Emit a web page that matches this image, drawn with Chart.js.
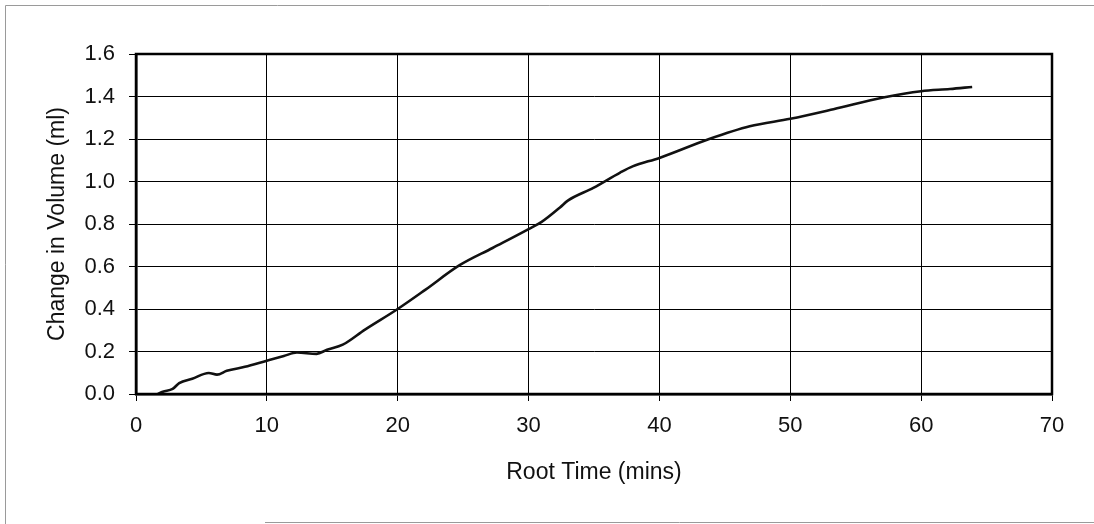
<!DOCTYPE html>
<html>
<head>
<meta charset="utf-8">
<script src="https://cdn.jsdelivr.net/npm/chart.js@4/dist/chart.umd.min.js"></script>
<style>
  html, body { margin: 0; padding: 0; background: #fff; }
  canvas { display: block; }
</style>
</head>
<body>
<canvas id="c" width="1094" height="524"></canvas>
<script>
// Data
const rootTime = [1.67, 2.05, 2.8, 3.3, 4.3, 5.56, 6.19, 6.94, 8.32, 10.0, 11.3, 12.3, 13.8, 14.6, 15.8, 17.5, 20.0, 22.1, 24.7, 27.25, 30.0, 31.0, 32.4, 33.0, 34.95, 37.0, 37.95, 40.0, 43.8, 46.9, 50.0, 53.3, 57.1, 60.0, 62.2, 63.9];
const volumeChange = [0.0, 0.011, 0.024, 0.051, 0.072, 0.099, 0.091, 0.109, 0.128, 0.157, 0.179, 0.195, 0.189, 0.208, 0.232, 0.303, 0.40, 0.49, 0.605, 0.687, 0.776, 0.81, 0.878, 0.91, 0.97, 1.042, 1.071, 1.111, 1.2, 1.26, 1.295, 1.34, 1.395, 1.425, 1.435, 1.445];
const xTitle = "Root Time (mins)";
const yTitle = "Change in Volume (ml)";
const xMin = 0, xMax = 70, xStep = 10;
const yMin = 0, yMax = 1.6, yStep = 0.2;

const points = rootTime.map((x, i) => ({ x: x, y: volumeChange[i] }));
const FONT = "'Liberation Sans', Arial, sans-serif";

const framePlugin = {
  id: 'frames',
  afterDraw(chart) {
    const ctx = chart.ctx;
    const a = chart.chartArea;
    ctx.save();
    // plot-area box
    ctx.strokeStyle = '#000';
    ctx.lineWidth = 2.5;
    ctx.strokeRect(a.left, a.top, a.right - a.left, a.bottom - a.top);
    // outer light frame of the figure
    ctx.strokeStyle = '#9a9a9a';
    ctx.lineWidth = 1;
    ctx.beginPath();
    ctx.moveTo(5.5, 524); ctx.lineTo(5.5, 5.5); ctx.lineTo(1094, 5.5);
    ctx.moveTo(265, 522.5); ctx.lineTo(1094, 522.5);
    ctx.stroke();
    ctx.restore();
  }
};

new Chart(document.getElementById('c'), {
  type: 'scatter',
  data: {
    datasets: [{
      data: points,
      showLine: true,
      borderColor: '#111',
      backgroundColor: '#111',
      borderWidth: 2.6,
      pointRadius: 0,
      cubicInterpolationMode: 'monotone'
    }]
  },
  options: {
    responsive: false,
    animation: false,
    devicePixelRatio: 1,
    layout: { padding: { left: 0, right: 42, top: 54, bottom: 0 } },
    plugins: { legend: { display: false }, tooltip: { enabled: false } },
    scales: {
      x: {
        type: 'linear',
        min: xMin, max: xMax,
        afterFit(s) { s.height = 130; },
        ticks: { stepSize: xStep, color: '#111', font: { family: FONT, size: 22 }, padding: 12, maxRotation: 0 },
        grid: { color: '#000', lineWidth: 1, tickLength: 7, tickColor: '#000' },
        border: { display: true, color: '#000', width: 2.5 },
        title: { display: true, text: xTitle, color: '#111', font: { family: FONT, size: 23 }, padding: { top: 0, bottom: 38 } }
      },
      y: {
        type: 'linear',
        min: yMin, max: yMax,
        afterFit(s) { s.width = 136; },
        ticks: { stepSize: yStep, color: '#111', font: { family: FONT, size: 22 }, padding: 14,
                 callback: (v) => Number(v).toFixed(1) },
        grid: { color: '#000', lineWidth: 1, tickLength: 7, tickColor: '#000' },
        border: { display: true, color: '#000', width: 2.5 },
        title: { display: true, text: yTitle, color: '#111', font: { family: FONT, size: 23 }, padding: { top: 44, bottom: 0 } }
      }
    }
  },
  plugins: [framePlugin]
});
</script>
</body>
</html>
